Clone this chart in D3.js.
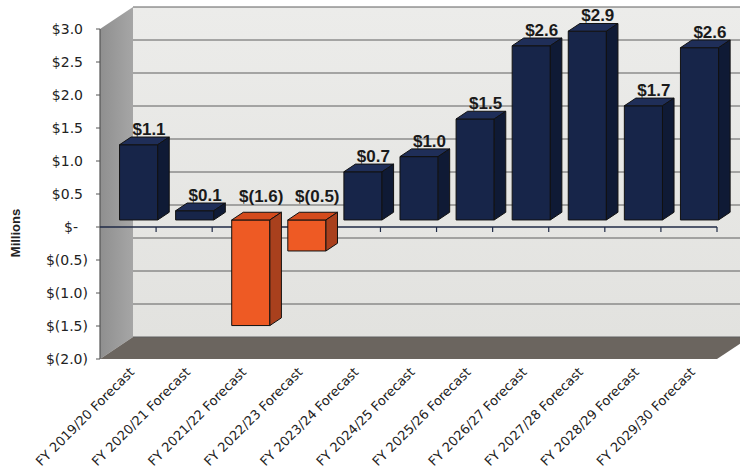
<!DOCTYPE html>
<html>
<head>
<meta charset="utf-8">
<script src="https://cdn.jsdelivr.net/npm/d3@7"></script>
<style>
  body { margin: 0; background: #fff; }
  svg { display: block; }
</style>
</head>
<body>
<div id="chart"></div>
<script>
// values in millions
var categories = ["FY 2019/20 Forecast", "FY 2020/21 Forecast", "FY 2021/22 Forecast",
  "FY 2022/23 Forecast", "FY 2023/24 Forecast", "FY 2024/25 Forecast", "FY 2025/26 Forecast",
  "FY 2026/27 Forecast", "FY 2027/28 Forecast", "FY 2028/29 Forecast", "FY 2029/30 Forecast"];
var values = [1.14, 0.14, -1.6, -0.47, 0.73, 0.96, 1.53, 2.64, 2.86, 1.73, 2.61];
var yTicks = [3.0, 2.5, 2.0, 1.5, 1.0, 0.5, 0, -0.5, -1.0, -1.5, -2.0];

var width = 740, height = 475,
  plotLeft = 100, plotRight = 717, plotTop = 29, plotBottom = 359,
  depthX = 33, depthY = 22,   // full depth of the 3d box
  f0 = 0.32, fBar = 0.35;     // where the bars sit in the depth

var svg = d3.select("#chart").append("svg")
  .attr("width", width)
  .attr("height", height);

var x = d3.scaleBand()
  .domain(categories)
  .range([plotLeft, plotRight])
  .paddingInner(0.32)
  .paddingOuter(0.16);

var y = d3.scaleLinear()
  .domain([-2, 3])
  .range([plotBottom, plotTop]);

function money(v) {
  if (v === 0) return "$-";
  if (v < 0) return "$(" + (-v).toFixed(1) + ")";
  return "$" + v.toFixed(1);
}
function center(d) { return x(d) + x.bandwidth() / 2; }

var defs = svg.append("defs");
var g1 = defs.append("linearGradient").attr("id", "back").attr("x1", 0).attr("y1", 0).attr("x2", 0).attr("y2", 1);
g1.append("stop").attr("offset", 0).attr("stop-color", "#ececea");
g1.append("stop").attr("offset", 1).attr("stop-color", "#e2e2df");
var g2 = defs.append("linearGradient").attr("id", "side").attr("x1", 0).attr("y1", 0).attr("x2", 1).attr("y2", 0);
g2.append("stop").attr("offset", 0).attr("stop-color", "#8f8f8f");
g2.append("stop").attr("offset", 1).attr("stop-color", "#a6a6a6");

var line = d3.line();

// walls and floor
svg.append("path")
  .attr("d", line([[plotLeft + depthX, plotTop - depthY], [width + 20, plotTop - depthY],
    [width + 20, plotBottom - depthY], [plotLeft + depthX, plotBottom - depthY]]) + "Z")
  .attr("fill", "url(#back)");
svg.append("path")
  .attr("d", line([[plotLeft, plotTop], [plotLeft + depthX, plotTop - depthY],
    [plotLeft + depthX, plotBottom - depthY], [plotLeft, plotBottom]]) + "Z")
  .attr("fill", "url(#side)");
svg.append("path")
  .attr("d", line([[plotLeft, plotBottom], [plotRight, plotBottom], [plotRight + depthX, plotBottom - depthY],
    [plotLeft + depthX, plotBottom - depthY]]) + "Z")
  .attr("fill", "#6b655f");

// gridlines on the back wall
svg.append("g").selectAll("line")
  .data(yTicks)
  .enter().append("line")
  .attr("x1", plotLeft + depthX)
  .attr("x2", width + 20)
  .attr("y1", function (d) { return y(d) - depthY; })
  .attr("y2", function (d) { return y(d) - depthY; })
  .attr("stroke", "#5e5e5e")
  .attr("stroke-width", 1);

// value axis
var yAxis = svg.append("g");
yAxis.append("line")
  .attr("x1", plotLeft).attr("x2", plotLeft)
  .attr("y1", y(3)).attr("y2", y(-2))
  .attr("stroke", "#555").attr("stroke-width", 1.2);
yAxis.selectAll(".tick")
  .data(yTicks)
  .enter().append("line")
  .attr("x1", plotLeft - 4).attr("x2", plotLeft)
  .attr("y1", function (d) { return y(d); })
  .attr("y2", function (d) { return y(d); })
  .attr("stroke", "#555");
yAxis.selectAll("text")
  .data(yTicks)
  .enter().append("text")
  .attr("x", function (d) { return d < 0 ? 88 : (d === 0 ? 78 : 83); })
  .attr("y", function (d) { return y(d); })
  .attr("dy", "0.36em")
  .attr("text-anchor", "end")
  .attr("font-family", "DejaVu Sans, sans-serif")
  .attr("font-size", "14px")
  .attr("fill", "#222")
  .text(money);

svg.append("text")
  .attr("transform", "translate(20,233) rotate(-90)")
  .attr("text-anchor", "middle")
  .attr("font-family", "Liberation Sans, Arial, sans-serif")
  .attr("font-weight", "bold")
  .attr("font-size", "13px")
  .attr("fill", "#222")
  .text("Millions");

// category axis at zero, ticks between categories
svg.append("line")
  .attr("x1", plotLeft).attr("x2", plotRight)
  .attr("y1", y(0)).attr("y2", y(0))
  .attr("stroke", "#1f2a46").attr("stroke-width", 1.5);
svg.append("g").selectAll("line")
  .data(categories)
  .enter().append("line")
  .attr("x1", function (d) { return center(d) + x.step() / 2; })
  .attr("x2", function (d) { return center(d) + x.step() / 2; })
  .attr("y1", y(0))
  .attr("y2", y(0) + 5)
  .attr("stroke", "#1f2a46").attr("stroke-width", 1.2);

svg.append("g").selectAll("text")
  .data(categories)
  .enter().append("text")
  .attr("transform", function (d) {
    return "translate(" + (center(d) + 7) + "," + (plotBottom + 14) + ") rotate(-45)";
  })
  .attr("text-anchor", "end")
  .attr("font-family", "DejaVu Sans, sans-serif")
  .attr("font-size", "13px")
  .attr("fill", "#222")
  .text(function (d) { return d; });

// 3d columns
var navy = { front: "#172549", top: "#1f2e58", side: "#0f1a35" },
  orange = { front: "#ee5a24", top: "#d44b1d", side: "#a9401d" };
var bdx = depthX * fBar, bdy = depthY * fBar;

var bars = svg.append("g").selectAll("g")
  .data(values)
  .enter().append("g");

bars.each(function (v, i) {
  var g = d3.select(this),
    c = v < 0 ? orange : navy,
    x0 = x(categories[i]) + depthX * f0,
    x1 = x0 + x.bandwidth(),
    yt = y(Math.max(v, 0)) - depthY * f0,
    yb = y(Math.min(v, 0)) - depthY * f0;
  g.append("path")
    .attr("d", line([[x0, yt], [x1, yt], [x1, yb], [x0, yb]]) + "Z")
    .attr("fill", c.front);
  g.append("path")
    .attr("d", line([[x0, yt], [x1, yt], [x1 + bdx, yt - bdy], [x0 + bdx, yt - bdy]]) + "Z")
    .attr("fill", c.top);
  g.append("path")
    .attr("d", line([[x1, yt], [x1 + bdx, yt - bdy], [x1 + bdx, yb - bdy], [x1, yb]]) + "Z")
    .attr("fill", c.side);
  g.selectAll("path")
    .attr("stroke", "#111")
    .attr("stroke-width", 1)
    .attr("stroke-linejoin", "round");
});

// value labels
svg.append("g").selectAll("text")
  .data(values)
  .enter().append("text")
  .attr("x", function (d, i) { return center(categories[i]) + 21; })
  .attr("y", function (d) { return d >= 0 ? y(d) - 17 : y(0) - 25; })
  .attr("text-anchor", "middle")
  .attr("font-family", "Liberation Sans, Arial, sans-serif")
  .attr("font-weight", "bold")
  .attr("font-size", "17px")
  .attr("fill", "#1a1a1a")
  .text(money);
</script>
</body>
</html>
